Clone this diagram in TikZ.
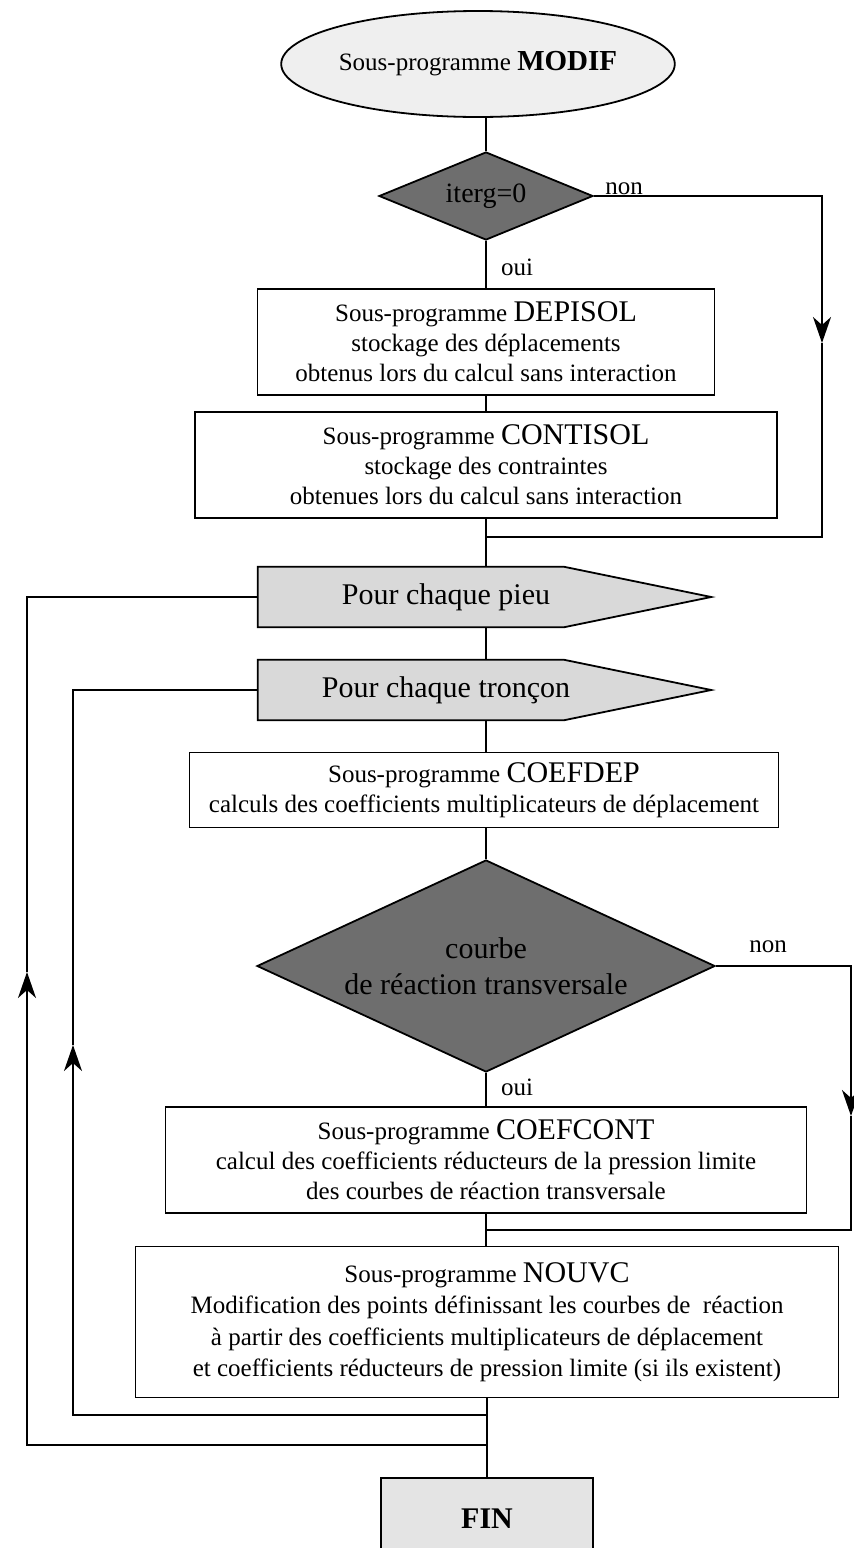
\documentclass[tikz,border=0pt]{standalone}
\usepackage{fontspec}
\setmainfont{Liberation Serif}
\usetikzlibrary{shapes.geometric,arrows.meta,calc}
\definecolor{dgray}{HTML}{6E6E6E}
\definecolor{pgray}{HTML}{D9D9D9}
\definecolor{egray}{HTML}{EFEFEF}
\definecolor{fgray}{HTML}{E4E4E4}
\newcommand{\nmfont}{\fontsize{30}{30}\selectfont}
\begin{document}
\begin{tikzpicture}[x=1pt,y=-1pt,
  txt/.style={font=\fontsize{25}{30}\selectfont},
  box/.style={draw, line width=1.8pt, fill=white, inner sep=0pt, align=center, txt},
  cond/.style={diamond, draw, line width=1.8pt, fill=dgray, inner sep=0pt, align=center},
  lbl/.style={inner sep=0pt, txt},
  pbody/.style={inner sep=0pt},
  pent/.style={draw, line width=1.8pt, fill=pgray, line join=miter},
  ptext/.style={inner sep=0pt, font=\fontsize{30}{30}\selectfont},
  conn/.style={line width=1.8pt, line join=miter},
  arr/.style={-{Stealth[length=26pt,width=18pt,inset=8pt]}}
]
\clip (0,0) rectangle (854,1548);
\fill[white] (0,0) rectangle (854,1548);

% start
\node[ellipse, draw, line width=1.8pt, fill=egray, minimum width=318, minimum height=106, inner sep=0pt, txt] (start) at (478,64)
  {Sous-programme {\bfseries\fontsize{29}{30}\selectfont MODIF}};

% first decision
\node[cond, shape aspect=2.43, minimum width=214, minimum height=88] (d1) at (486,196)
  {\fontsize{28}{30}\selectfont iterg=0};
\node[lbl] (non1) at (624,189) {non};
\node[lbl] (oui1) at (517,267) {oui};

% DEPISOL / CONTISOL
\node[box, minimum width=457, minimum height=106] (dep) at (486,342)
  {Sous-programme {\nmfont DEPISOL}\\ stockage des déplacements\\ obtenus lors du calcul sans interaction};
\node[box, minimum width=582, minimum height=106] (cont) at (486,465)
  {Sous-programme {\nmfont CONTISOL}\\ stockage des contraintes\\ obtenues lors du calcul sans interaction};

% loop headers
\node[pbody, minimum width=306, minimum height=60] (pieu) at (411,597) {};
\draw[pent] (pieu.north west) -- (pieu.north east) -- ($(pieu.east)+(147,0)$) -- (pieu.south east) -- (pieu.south west) -- cycle;
\node[ptext] (pieuT) at (446,597) {Pour chaque pieu};

\node[pbody, minimum width=306, minimum height=60] (tronc) at (411,690) {};
\draw[pent] (tronc.north west) -- (tronc.north east) -- ($(tronc.east)+(147,0)$) -- (tronc.south east) -- (tronc.south west) -- cycle;
\node[ptext] (troncT) at (446,690) {Pour chaque tronçon};

% COEFDEP
\node[box, minimum width=589, minimum height=75] (cdep) at (484,790)
  {Sous-programme {\nmfont COEFDEP}\\ calculs des coefficients multiplicateurs de déplacement};

% second decision
\node[cond, shape aspect=2.16, minimum width=458, minimum height=212, font=\fontsize{30}{36}\selectfont] (d2) at (486,966)
  {courbe\\ de réaction transversale};
\node[lbl] (non2) at (768,947) {non};
\node[lbl] (oui2) at (517,1087) {oui};

% COEFCONT
\node[box, minimum width=641, minimum height=106] (ccont) at (486,1160)
  {Sous-programme {\nmfont COEFCONT}\\ calcul des coefficients réducteurs de la pression limite\\ des courbes de réaction transversale};

% NOUVC
\node[box, minimum width=703, minimum height=151, font=\fontsize{25}{31.5}\selectfont] (nouvc) at (487,1322)
  {Sous-programme {\nmfont NOUVC}\\ Modification des points définissant les courbes de~ réaction\\ à partir des coefficients multiplicateurs de déplacement\\ et coefficients réducteurs de pression limite (si ils existent)};

% FIN
\node[draw, line width=1.8pt, fill=fgray, minimum width=212, minimum height=82, inner sep=0pt, anchor=north, font=\bfseries\fontsize{30}{30}\selectfont] (fin) at (487,1477) {FIN};

% coordinates for connectors
\coordinate (r1a) at (822,196);
\coordinate (r1b) at (822,343);
\coordinate (r1c) at (822,537);
\coordinate (j1) at (486,537);
\coordinate (r2a) at (851,966);
\coordinate (r2b) at (851,1116);
\coordinate (r2c) at (851,1230);
\coordinate (j2) at (486,1230);
\coordinate (j3) at (486,1415);
\coordinate (l2a) at (73,1415);
\coordinate (l2b) at (73,1045);
\coordinate (l2c) at (73,690);
\coordinate (j4) at (486,1445);
\coordinate (l1a) at (27,1445);
\coordinate (l1b) at (27,972);
\coordinate (l1c) at (27,597);

% trunk
\draw[conn] (d1.north) -- (d1.north |- start.south);
\draw[conn] (d1.south) -- (dep.north);
\draw[conn] (dep.south) -- (cont.north);
\draw[conn] (cont.south) -- (cont.south |- pieu.north);
\draw[conn] (cont.south |- pieu.south) -- (cont.south |- tronc.north);
\draw[conn] (cont.south |- tronc.south) -- (cont.south |- cdep.north);
\draw[conn] (cont.south |- cdep.south) -- (d2.north);
\draw[conn] (d2.south) -- (ccont.north);
\draw[conn] (ccont.south) -- (ccont.south |- nouvc.north);
\draw[conn] (nouvc.south) -- (fin.north);

% right loops
\draw[conn, arr] (d1.east) -- (r1a) -- (r1b);
\draw[conn] (r1b) -- (r1c) -- (j1);
\draw[conn, arr] (d2.east) -- (r2a) -- (r2b);
\draw[conn] (r2b) -- (r2c) -- (j2);

% left loops
\draw[conn, arr] (j4) -- (l1a) -- (l1b);
\draw[conn] (l1b) -- (l1c) -- (pieu.west);
\draw[conn, arr] (j3) -- (l2a) -- (l2b);
\draw[conn] (l2b) -- (l2c) -- (tronc.west);
\end{tikzpicture}
\end{document}
